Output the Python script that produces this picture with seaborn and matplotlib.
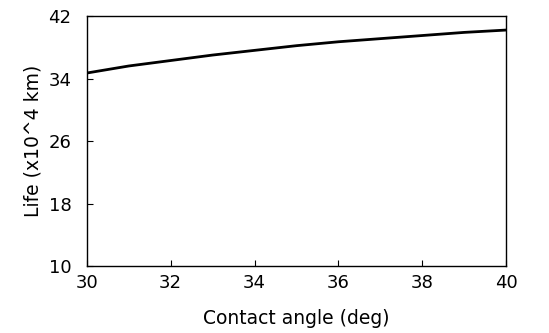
import numpy as np
import pandas as pd
import matplotlib
matplotlib.use("Agg")
import matplotlib.pyplot as plt
import seaborn as sns

# Data
contact_angle = [30, 31, 32, 33, 34, 35, 36, 37, 38, 39, 40]
life = [34.7, 35.6, 36.3, 37.0, 37.6, 38.2, 38.7, 39.1, 39.5, 39.9, 40.2]

df = pd.DataFrame({"angle": contact_angle, "life": life})

sns.set_style("ticks")
plt.rcParams["font.family"] = ["DejaVu Sans"]
plt.rcParams["text.color"] = "black"
plt.rcParams["axes.labelcolor"] = "black"

fig = plt.figure(figsize=(5.49, 3.33), dpi=100)
ax = fig.add_axes([0.158, 0.201, 0.764, 0.751])

sns.lineplot(data=df, x="angle", y="life", color="black", linewidth=2, ax=ax)

ax.set_xlim(30, 40)
ax.set_ylim(10, 42)
ax.set_xticks([30, 32, 34, 36, 38, 40])
ax.set_yticks([10, 18, 26, 34, 42])
ax.tick_params(direction="in", length=4, width=0.8, labelsize=13, colors="black")
ax.tick_params(axis="x", pad=6)
ax.tick_params(axis="y", pad=11)
for s in ax.spines.values():
    s.set_visible(True)
    s.set_color("black")
    s.set_linewidth(1.0)

ax.set_xlabel("Contact angle (deg)", fontsize=13.5, labelpad=12)
ax.set_ylabel("Life (x10^4 km)", fontsize=13.5, labelpad=4)

fig.savefig("out.png", dpi=100)
